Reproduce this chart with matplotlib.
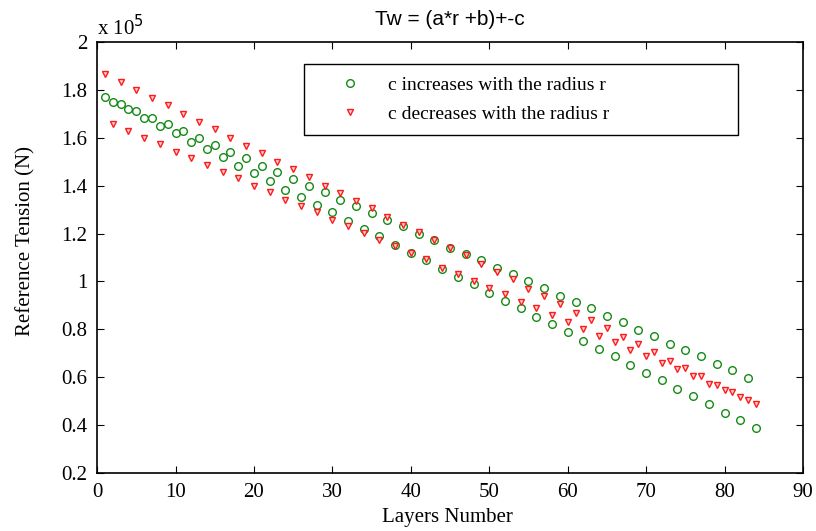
import matplotlib.pyplot as plt
import numpy as np

plt.rcParams['font.family'] = ['Liberation Serif', 'DejaVu Serif']

# layer index 1..84
layers = np.arange(1, 85)

# reference tension (x 10^5 N), c increases with radius r
tension_inc = [1.771, 1.751, 1.741, 1.719, 1.713, 1.683, 1.683, 1.650, 1.656, 1.619,
               1.630, 1.582, 1.598, 1.552, 1.571, 1.518, 1.540, 1.482, 1.514, 1.451,
               1.482, 1.419, 1.456, 1.382, 1.429, 1.351, 1.398, 1.319, 1.372, 1.289,
               1.340, 1.252, 1.314, 1.220, 1.287, 1.188, 1.255, 1.151, 1.230, 1.119,
               1.198, 1.088, 1.172, 1.052, 1.141, 1.020, 1.116, 0.989, 1.088, 0.952,
               1.057, 0.919, 1.030, 0.888, 1.000, 0.851, 0.972, 0.821, 0.940, 0.789,
               0.914, 0.752, 0.888, 0.720, 0.857, 0.688, 0.830, 0.652, 0.798, 0.620,
               0.772, 0.588, 0.741, 0.552, 0.715, 0.520, 0.688, 0.488, 0.656, 0.452,
               0.630, 0.420, 0.599, 0.389]

# c decreases with radius r
tension_dec = [1.866, 1.657, 1.834, 1.630, 1.798, 1.598, 1.766, 1.573, 1.736, 1.541,
               1.698, 1.514, 1.667, 1.488, 1.635, 1.456, 1.598, 1.431, 1.567, 1.398,
               1.535, 1.372, 1.497, 1.340, 1.468, 1.315, 1.436, 1.290, 1.400, 1.257,
               1.368, 1.231, 1.337, 1.201, 1.305, 1.173, 1.270, 1.149, 1.236, 1.120,
               1.208, 1.092, 1.173, 1.057, 1.141, 1.031, 1.112, 1.000, 1.071, 0.974,
               1.039, 0.947, 1.009, 0.915, 0.970, 0.890, 0.938, 0.859, 0.906, 0.832,
               0.868, 0.800, 0.838, 0.773, 0.805, 0.747, 0.769, 0.716, 0.737, 0.688,
               0.705, 0.658, 0.669, 0.633, 0.638, 0.605, 0.605, 0.574, 0.568, 0.546,
               0.538, 0.517, 0.505, 0.489]

xticks = [0, 10, 20, 30, 40, 50, 60, 70, 80, 90]
yticks = [0.2, 0.4, 0.6, 0.8, 1.0, 1.2, 1.4, 1.6, 1.8, 2.0]
ytick_labels = ['0.2', '0.4', '0.6', '0.8', '1', '1.2', '1.4', '1.6', '1.8', '2']

fig = plt.figure(figsize=(8.16, 5.31), dpi=100)
ax = fig.add_axes([0.119, 0.109, 0.865, 0.812])

ax.plot(layers, tension_inc, linestyle='none', marker='o', markersize=5.5,
        markerfacecolor='none', markeredgecolor='#138a13', markeredgewidth=1.0,
        label='c increases with the radius r')
ax.plot(layers, tension_dec, linestyle='none', marker='v', markersize=5,
        markerfacecolor='#ffd0d0', markeredgecolor='#ff1a1a', markeredgewidth=1.0,
        label='c decreases with the radius r')

ax.set_xlim(0, 90)
ax.set_ylim(0.2, 2.0)
ax.set_xticks(xticks)
ax.set_yticks(yticks)
ax.set_yticklabels(ytick_labels)
ax.tick_params(direction='in', top=True, right=True, length=5, width=0.8,
               labelsize=15)
ax.tick_params(axis='x', pad=7)
ax.tick_params(axis='y', pad=7)
for s in ax.spines.values():
    s.set_linewidth(1.2)

ax.set_xlabel('Layers Number', fontsize=15)
ax.xaxis.set_label_coords(0.496, -0.082)
ax.set_ylabel('Reference Tension (N)', fontsize=15)
ax.yaxis.set_label_coords(-0.088, 0.538)
ax.set_title('Tw = (a*r +b)+-c', fontsize=15, family='Liberation Sans', pad=12)
ax.text(0.0, 1.016, r'x 10$^{5}$', transform=ax.transAxes, fontsize=15,
        ha='left', va='baseline')

leg = ax.legend(loc='upper left', bbox_to_anchor=(0.293, 0.80, 0.615, 0.149),
                mode='expand', borderaxespad=0, fontsize=14, numpoints=1,
                handlelength=3.44, handletextpad=0.24, borderpad=0.65,
                labelspacing=0.56, fancybox=False, framealpha=1,
                edgecolor='black')
leg.get_frame().set_linewidth(1.0)

fig.savefig('out.png', dpi=100)
